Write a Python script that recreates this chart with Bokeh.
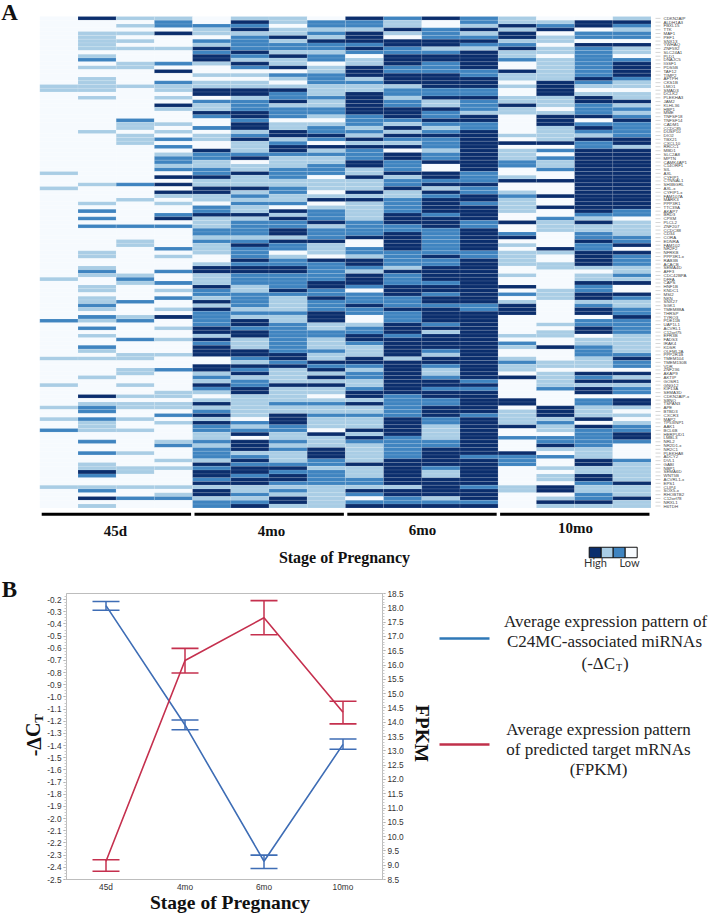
from bokeh.plotting import figure
from bokeh.layouts import column
from bokeh.embed import file_html
from bokeh.resources import INLINE
from bokeh.models import (ColumnDataSource, Range1d, FactorRange, LinearAxis, FixedTicker, Label,
                          Whisker, TeeHead, BoxAnnotation)
from bokeh.core.properties import value

# ---------- DATA: panel A, one string per heatmap column, level 0 (low) .. 3 (high), row 0 at the top
col_45d_1 = "0000000000 0000000011 0000000000 0000000000 0100010000 0000000000 0000000001 0000000000 2000000000 1000000100 0001001002 0000000000 0000100000"
col_45d_2 = "3000111110 1201001111 0100000000 1000000000 0000100001 0202020000 0011001210 0110112102 1020100210 1000010000 3012202111 0020020011 3200120301"
col_45d_3 = "1010101010 0011000010 0000000211 0111000000 0000200010 0000020001 1000000012 1000020001 2000020001 1001100100 1011001001 0000010001 1000100200"
col_45d_4 = "1220300010 0020300211 0103100010 1020201221 2030303101 0023020000 0201000200 2010200103 0010010001 0002000001 1011020100 0012000101 0000101200"
col_4mo_1 = "0021102132 3310010113 3021132002 0110032211 2231133110 2231112212 1110013311 1322131322 2233132333 0033121321 0131231322 1121222132 3323133122"
col_4mo_2 = "1323122223 2132010113 3122233233 1231112301 1311131212 1131222212 3222323322 2112222121 3323311133 2132312233 1111110212 3033312323 3233112123"
col_4mo_3 = "1101131221 3113021013 2231222011 3312332111 2221122112 0313223313 2201223322 2232111121 1222222223 3231111311 1121133322 1121211123 2332121331"
col_4mo_4 = "0221213221 2201122211 1211221012 2320312112 2201110130 1222312223 1110322222 3322322233 3112211121 1323131311 0121121110 3111333221 2222111111"
col_6mo_1 = "3221333232 0113331211 3333332221 2131322233 1131113131 1111222230 0221332133 3202223220 0122332111 3321221123 3131121113 1321111131 1122132023"
col_6mo_2 = "2113103322 3332233312 2122333213 1321303322 2312231122 2233322333 3322221322 2333222322 2333233333 1333333333 2222223333 3222222333 3333133223"
col_6mo_3 = "3002223312 3322233332 2311322321 2322212230 0332313233 3323332222 2223223333 2332332333 3231333321 3321123323 3223332211 1122333332 1133333123"
col_6mo_4 = "2213123213 3333223332 2322213322 3333333333 3222322332 3333223333 3322333333 3333332233 3333333333 3333332323 3333323333 3333332333 3333233323"
col_10mo_1 = "1131331231 1200311010 0113110000 0103011122 0013001211 1100300230 1011110010 0302013330 0000102100 1211030000 0330111130 0200032220 0000110000"
col_10mo_2 = "0123011011 0111111333 3111013331 1113020211 2003000300 3002111000 0310011000 0011100000 0101100300 0110111120 0003331211 0223102001 0110330131"
col_10mo_3 = "0330220322 2222223210 1332223023 2132233333 3333333333 3321311223 2233331011 3223312330 2233011222 1110323133 0221113032 2222111331 1332112231"
col_10mo_4 = "1321220311 0233332110 1131212322 2233133333 3333333333 3220111122 3032221121 3003211223 2222111112 3220313122 0331010122 3320000211 1113111311"
heat_columns = [col_45d_1, col_45d_2, col_45d_3, col_45d_4, col_4mo_1, col_4mo_2, col_4mo_3, col_4mo_4,
                col_6mo_1, col_6mo_2, col_6mo_3, col_6mo_4, col_10mo_1, col_10mo_2, col_10mo_3, col_10mo_4]
gene_labels = ["CDKN2AIP","ALDH1A3","FBXL15","TTK","MAF1","PEF1","SNX13","YWHAQ","ZNF592","SLC24A1","PLD1","DNAJC5",
 "IGSF1","PDS5B","TAF12","TIMP2","AFTPH","CKS1B","LMO1","SMAD3","DCLK2","PLEKHA3","JAM2","KLHL36","HBP1","MME",
 "TNFSF18","TNFSF14","CADM1","CCDC85","DUSP10","DIO2","TBX21","CXCL10","RRCC1","MBD1","SLC2A8","MPTN","CAMK4AP1",
 "C14ORF1","SIL","AXL","CYFIP1","CTNNAL1","SH3BGRL","AXL-x","CYFIP1-x","FAM107A","MARK3","PPP3R1","TTC39A","AKAP7",
 "BRD3","CPXM","PLCL2","ZNF207","CCDC88","CD34","CORA","EDNRA","FAM102","NR2F2","NFRKB","PPP3R1-x","RAB3B","ACACB",
 "SEMA4D","AFF3","CDC42BPA","DFFA","CAPS","HNF1B","KNDC1","MSI2","NKN","SNX27","SGK1","TMEM88A","THRSP","TYRO3",
 "PDE11B","UAP1L1","ACVRL1","C12orf75","EFR3B","FADS3","IRAK4","KDSR","OLFML2A","PPP2R1B","TMEM104","TMEM130B","VDR",
 "ZNF236","AKAP9","AKTIP","GOSR1","GNG12","KIF13A","SEMA3D","CDKN2AIP-x","SBNO","TSPAN3","APE","BTBD3","CXCR3","MAP2",
 "TP53INP1","AAK1","BCL6B","HERPUD1","LMBL3","NRL2","NR2D1-x","NR2C1","PLEKHA8","ADCY2","DVL1","GABI","NBP1","SEMA6D",
 "WNT5B","ACVRL1-x","EPS1","CLIP4","SOX5-x","RHOBTB2","C12orf78","NRXL1","H6TDH"]
stage_names = ["45d", "4mo", "6mo", "10mo"]
level_colors = ["#F6FAFE", "#A9CDE5", "#3F84C0", "#0B2E6D"]
legend_levels = [3, 1, 2, 0]

# ---------- DATA: panel B
dct_mean = [-0.25, -1.23, -2.35, -1.39]
dct_upper = [-0.216, -1.19, -2.30, -1.345]
dct_lower = [-0.288, -1.27, -2.41, -1.43]
fpkm_mean = [9.14, 16.16, 17.65, 14.35]
fpkm_upper = [9.19, 16.58, 18.25, 14.73]
fpkm_lower = [8.79, 15.72, 17.06, 13.94]
dct_ticks = [-2.5,-2.4,-2.3,-2.2,-2.1,-2.0,-1.9,-1.8,-1.7,-1.6,-1.5,-1.4,-1.3,-1.2,-1.1,-1.0,-0.9,-0.8,-0.7,-0.6,-0.5,-0.4,-0.3,-0.2]
fpkm_ticks = [8.5,9.0,9.5,10.0,10.5,11.0,11.5,12.0,12.5,13.0,13.5,14.0,14.5,15.0,15.5,16.0,16.5,17.0,17.5,18.0,18.5]

# ---------- layout constants (window pixels); the rendered page starts at the window corner
W = 709
H1, H2 = 914, 343
Y0_B = H1 - H2
HEAT_L, HEAT_T, PX_COL, PX_ROW = 39.3, 16.0, 38.2, 3.78
SERIF = "Liberation Serif"
SANS = "Liberation Sans"
BLUE, RED = "#3E6DB5", "#C5304E"

cols = [c.replace(" ", "") for c in heat_columns]
assert all(len(c) == 130 for c in cols), [len(c) for c in cols]
assert len(gene_labels) == 130, len(gene_labels)

# ---------- page-wide figure: heatmap and every free text
p1 = figure(width=W, height=H1, output_backend="svg", toolbar_location=None, min_border=0,
            frame_align=False,
            x_range=Range1d(-HEAT_L / PX_COL, (W - HEAT_L) / PX_COL),
            y_range=Range1d((H1 - HEAT_T) / PX_ROW, -HEAT_T / PX_ROW))
p1.axis.visible = False
p1.grid.visible = False
p1.outline_line_color = None

xs, ys, fills = [], [], []
for ci, c in enumerate(cols):
    for ri, ch in enumerate(c):
        xs.append(ci + 0.5)
        ys.append(ri + 0.5)
        fills.append(level_colors[int(ch)])
p1.rect(x="x", y="y", width=1, height=1, source=ColumnDataSource(dict(x=xs, y=ys, c=fills)),
        fill_color="c", line_color="#FFFFFF", line_alpha=0.22, line_width=0.5)

rows = [i + 0.5 for i in range(130)]
dx0, dx1 = 16 + 4.5 / PX_COL, 16 + 9.5 / PX_COL
p1.segment(x0=[dx0] * 130, x1=[dx1] * 130, y0=rows, y1=rows, line_color="#C4C4C4", line_width=0.7)
p1.text(x=[16 + 12.5 / PX_COL] * 130, y=rows, text=gene_labels, text_font=value(SANS),
        text_font_size="4.4px", text_baseline="middle", text_color="#444444")

bar_row = (513.7 - HEAT_T) / PX_ROW
p1.segment(x0=[i * 4 + 0.05 for i in range(4)], x1=[i * 4 + 3.96 for i in range(4)],
           y0=[bar_row] * 4, y1=[bar_row] * 4, line_color="#000000", line_width=3)

box_w = 12 / PX_COL
box_x = (588.7 - HEAT_L) / PX_COL
box_y = (552 - HEAT_T) / PX_ROW
p1.rect(x=[box_x + (i + 0.5) * box_w for i in range(4)], y=[box_y] * 4, width=box_w, height=10.5 / PX_ROW,
        fill_color=[level_colors[l] for l in legend_levels], line_color="#111111", line_width=1)


def add(t, X, Y, size, font=SERIF, style="bold", color="#111111", align="center", angle=0):
    p1.add_layout(Label(x=X, y=H1 - Y, x_units="screen", y_units="screen", text=t, text_font=font,
                        text_font_size=f"{size}px", text_font_style=style, text_color=color,
                        text_align=align, text_baseline="middle", angle=angle))


add("A", 9, 12, 23)
for t, X, Y in zip(stage_names, [115, 271, 422, 575], [530, 530, 529, 527]):
    add(t, X, Y, 15)
add("Stage of Pregnancy", 344, 557, 16)
add("High", 595, 562, 11, font="Lato", style="normal", color="#333333")
add("Low", 629, 562, 11, font="Lato", style="normal", color="#333333")
add("B", 9, 589, 23)
add("Stage of Pregnancy", 229.5, 902, 19.5)
add("-\u0394C", 33, 739, 20, angle=1.5708)
add("T", 38, 718, 13, angle=1.5708)
add("FPKM", 421.5, 733, 19.5, angle=-1.5708)
LEG = dict(style="normal", color="#222222")
add("Average expression pattern of", 605, 621, 17, **LEG)
add("C24MC-associated miRNAs", 604, 641, 17, **LEG)
add("(-\u0394C", 581, 663, 17, align="left", **LEG)
add("T", 615.5, 667, 10, align="left", **LEG)
add(")", 622.5, 663, 17, align="left", **LEG)
add("Average expression pattern", 598, 729, 17, **LEG)
add("of predicted target mRNAs", 598, 749, 17, **LEG)
add("(FPKM)", 598, 769, 17, **LEG)

for Y, c in ((638, "#2F78B7"), (744, "#C0304A")):
    p1.add_layout(BoxAnnotation(left=439, right=489, top=H1 - Y + 1.3, bottom=H1 - Y - 1.3,
                                left_units="screen", right_units="screen", top_units="screen",
                                bottom_units="screen", fill_color=c, fill_alpha=1, line_color=None))

# ---------- panel B chart, laid over the lower part of the page figure
FR_L, FR_R, FR_T, FR_B = 66.7, 381.7, 593.0, 878.3
p2 = figure(width=W, height=H2, output_backend="svg", toolbar_location=None, frame_align=False,
            margin=(-H2, 0, 0, 0), background_fill_alpha=0, border_fill_alpha=0,
            x_range=FactorRange(factors=stage_names, range_padding=0),
            y_range=Range1d(-2.5, -0.15),
            min_border_left=int(FR_L), min_border_right=int(W - FR_R),
            min_border_top=int(FR_T - Y0_B), min_border_bottom=int(Y0_B + H2 - FR_B))
p2.extra_y_ranges = {"fpkm": Range1d(8.5, 18.5)}
p2.grid.visible = False
p2.outline_line_color = "#BDBDBD"

ax_y = p2.yaxis[0]
ax_y.ticker = FixedTicker(ticks=dct_ticks, minor_ticks=[-2.5 + i * 0.025 for i in range(95)])
ax_y.major_label_overrides = {t: f"{t:.1f}" for t in dct_ticks}
ax_r = LinearAxis(y_range_name="fpkm",
                  ticker=FixedTicker(ticks=fpkm_ticks, minor_ticks=[8.5 + i * 0.1 for i in range(101)]))
ax_r.major_label_overrides = {t: f"{t:.1f}" for t in fpkm_ticks}
p2.add_layout(ax_r, "right")
for ax in (ax_y, ax_r):
    ax.axis_line_color = "#BDBDBD"
    ax.major_tick_line_color = "#9A9A9A"
    ax.minor_tick_line_color = "#C8C8C8"
    ax.major_tick_out, ax.major_tick_in = 3, 0
    ax.minor_tick_out, ax.minor_tick_in = 2, 0
    ax.major_label_text_font = SANS
    ax.major_label_text_font_size = "8.3px"
    ax.major_label_text_color = "#333333"
    ax.major_label_standoff = 2
ax_x = p2.xaxis[0]
ax_x.axis_line_color = "#BDBDBD"
ax_x.major_tick_line_color = None
ax_x.minor_tick_line_color = None
ax_x.major_tick_out, ax_x.major_tick_in = 0, 0
ax_x.minor_tick_out, ax_x.minor_tick_in = 0, 0
ax_x.major_label_text_font = SANS
ax_x.major_label_text_font_size = "8.3px"
ax_x.major_label_text_color = "#333333"
ax_x.major_label_standoff = 2

src = ColumnDataSource(dict(x=stage_names, d=dct_mean, du=dct_upper, dl=dct_lower,
                            f=fpkm_mean, fu=fpkm_upper, fl=fpkm_lower))
p2.line("x", "d", source=src, line_color=BLUE, line_width=1.6)
p2.line("x", "f", source=src, y_range_name="fpkm", line_color=RED, line_width=1.6)
p2.add_layout(Whisker(base="x", upper="du", lower="dl", source=src, line_color=BLUE, line_width=1.5,
                      upper_head=TeeHead(size=27, line_color=BLUE, line_width=1.6),
                      lower_head=TeeHead(size=27, line_color=BLUE, line_width=1.6)))
p2.add_layout(Whisker(base="x", upper="fu", lower="fl", source=src, y_range_name="fpkm", line_color=RED,
                      line_width=1.5, upper_head=TeeHead(size=27, line_color=RED, line_width=1.6),
                      lower_head=TeeHead(size=27, line_color=RED, line_width=1.6)))

page = column(p1, p2, spacing=0)
open("out.html", "w").write(file_html(page, INLINE))
